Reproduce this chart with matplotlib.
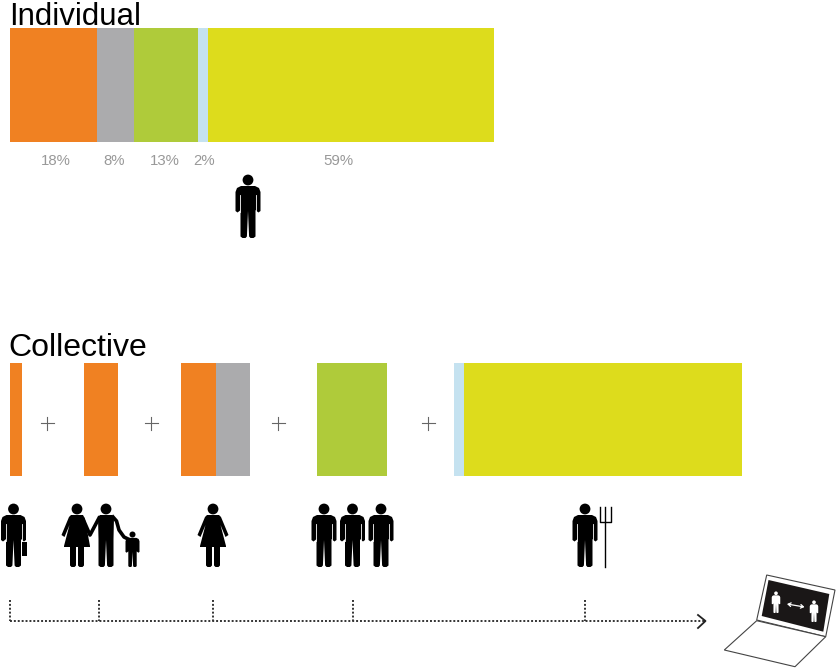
import matplotlib.pyplot as plt

NARANJA = "#F08122"
GRIS = "#ABABAD"
VERDE = "#AFCB3A"
CELESTE = "#C5E2F0"
AMARILLO = "#DDDC1C"

# -------- Pictogramas --------
def Hombre(x, pies, s=1.0, color="black", corte="white", brazos=True):
    piernas = [(7.5, -28), (7.5, -1.5), (5.5, 0), (2.5, 0), (1.1, -1.5), (0, -27), (-1.1, -1.5), (-2.5, 0),
               (-5.5, 0), (-7.5, -1.5), (-7.5, -28)]
    if brazos:
        cuerpo = [(-7, -52), (7, -52), (11, -50), (12.5, -46), (12.5, -27), (10.5, -25.5), (8.5, -27)] + piernas \
            + [(-8.5, -27), (-10.5, -25.5), (-12.5, -27), (-12.5, -46), (-11, -50)]
    else:
        cuerpo = [(-6, -52), (6, -52), (8, -50)] + piernas + [(-8, -50)]
    plt.fill([x + px * s for px, py in cuerpo], [pies + py * s for px, py in cuerpo], color=color, lw=0)
    plt.gca().add_patch(plt.Circle((x, pies - 58 * s), 5.4 * s, color=color, lw=0))
    if corte and brazos:
        for lado in (-1, 1):
            plt.plot([x + lado * 8 * s] * 2, [pies - 43 * s, pies - 26 * s], color=corte, lw=0.6 * s)

def Mujer(x, pies, color="black", brazo_derecho=True):
    derecha = [(6, -52), (8, -50), (15.5, -32), (12.5, -30), (7.5, -42), (13, -21), (13, -20),
               (7, -20)] if brazo_derecho else [(6, -52), (8, -48), (13, -21), (13, -20), (7, -20)]
    vestido = [(-6, -52)] + derecha + [(7, -1.5), (5.5, 0), (2.5, 0), (1, -1.5), (1, -20), (-1, -20), (-1, -1.5),
               (-2.5, 0), (-5.5, 0), (-7, -1.5), (-7, -20), (-13, -20), (-13, -21), (-7.5, -42), (-12.5, -30),
               (-15.5, -32), (-8, -50)]
    plt.fill([x + px for px, py in vestido], [pies + py for px, py in vestido], color=color, lw=0)
    plt.gca().add_patch(plt.Circle((x, pies - 58), 5.4, color=color, lw=0))

# -------- Main --------
if __name__ == "__main__":
    plt.figure(figsize=(8.4, 6.72), dpi=100)
    plt.rcParams["font.family"] = "Liberation Sans"
    plt.axes([0, 0, 1, 1])
    plt.xlim(0, 840)
    plt.ylim(672, 0)
    plt.axis("off")

    # barra individual
    porcentajes = [18, 8, 13, 2, 59]
    anchos = [87, 37, 64, 10, 286]
    colores = [NARANJA, GRIS, VERDE, CELESTE, AMARILLO]
    centros = [55.5, 114.5, 165, 204, 338]
    izquierda = 10
    for valor, ancho, color, centro in zip(porcentajes, anchos, colores, centros):
        plt.barh(85, ancho, height=114, left=izquierda, color=color)
        plt.text(centro, 161, f"{valor}%", color="#999999", fontsize=10.8, ha="center", va="center")
        izquierda += ancho
    plt.text(9, 25, "Individual", fontsize=22.5, va="baseline")

    # barras colectivas
    colectivo = [(10, 12, NARANJA), (84, 34, NARANJA), (181, 35, NARANJA), (216, 34, GRIS),
                 (317, 70, VERDE), (454, 10, CELESTE), (464, 278, AMARILLO)]
    for inicio, ancho, color in colectivo:
        plt.barh(419.5, ancho, height=113, left=inicio, color=color)
    plt.text(8.5, 356, "Collective", fontsize=23, va="baseline")
    for x in [47, 151, 278, 428]:
        plt.plot([x - 6.5, x + 6.5], [423, 423], color="#666666", lw=0.8)
        plt.plot([x, x], [416.5, 429.5], color="#666666", lw=0.8)

    # personas
    Hombre(248, 238)
    Hombre(13.5, 567)
    plt.fill([21.7, 26.5, 26.5, 21.7], [541.5, 541.5, 555.5, 555.5], color="black", lw=0)  # maletin
    Mujer(77, 567, brazo_derecho=False)
    Hombre(106, 567, brazos=False)
    plt.plot([83, 90, 99], [519, 535, 518], color="black", lw=2.6, solid_joinstyle="round")  # manos
    plt.plot([113, 116.5, 119, 124, 130], [517, 521, 530, 537, 540], color="black", lw=2.6)
    Hombre(132.5, 567, s=0.56, corte=None)
    Mujer(213, 567)
    for x in [324, 352.5, 381]:
        Hombre(x, 567)
    Hombre(585, 567)

    # horca
    plt.plot([605, 605], [507, 567], color="black", lw=1)
    plt.plot([599.5, 599.5, 610.5, 610.5], [507, 522, 522, 507], color="black", lw=1)

    # linea de tiempo
    punteado = (0, (1, 1))
    plt.plot([10, 704], [621, 621], color="#333333", lw=1.4, linestyle=punteado)
    for x in [10, 99, 213, 353, 585]:
        plt.plot([x, x], [600, 621], color="#333333", lw=1.4, linestyle=punteado)
    plt.plot([698, 705.5, 698], [615, 621, 628], color="#222222", lw=1.3)

    # portatil
    plt.fill([766.7, 835, 825.7, 756.7], [575, 590, 636.7, 620], facecolor="white", edgecolor="#444444", lw=0.8)
    plt.fill([768.5, 829.3, 823.3, 761.7], [580, 594, 631.7, 616], color="#1A1717", lw=0)
    plt.fill([756.7, 825.7, 795, 724.3], [620.7, 636.7, 666.7, 650], facecolor="white", edgecolor="#444444", lw=0.8)
    Hombre(776, 613, s=0.34, color="white", corte=None)
    Hombre(814, 622, s=0.34, color="white", corte=None)
    plt.annotate("", xy=(804.5, 607), xytext=(787, 604),
                 arrowprops=dict(arrowstyle="<->,head_length=0.2,head_width=0.13", color="white", lw=0.9,
                                 shrinkA=0, shrinkB=0))

    plt.savefig("out.png", dpi=100)
